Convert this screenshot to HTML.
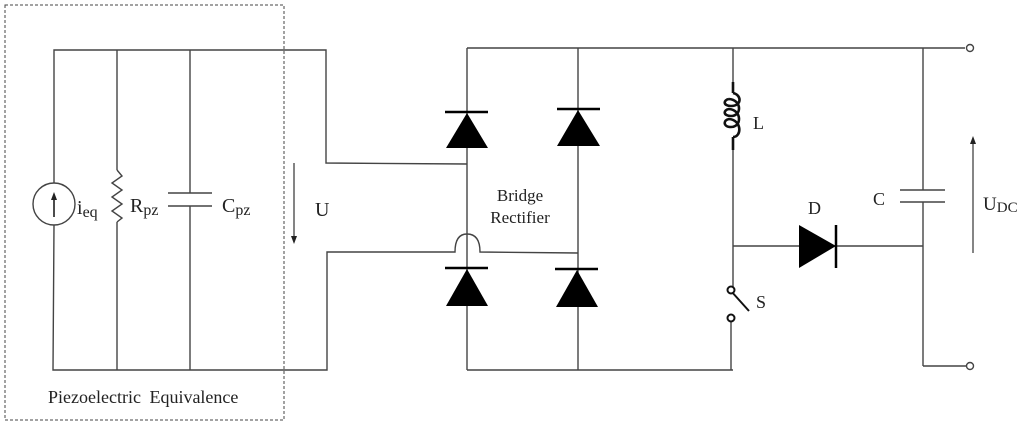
<!DOCTYPE html>
<html><head><meta charset="utf-8"><style>
html,body{margin:0;padding:0;background:#fff;}
svg{display:block;}
text{font-family:"Liberation Serif",serif;fill:#222;}
</style></head><body>
<svg width="1024" height="425" viewBox="0 0 1024 425" xmlns="http://www.w3.org/2000/svg">
<defs>
<marker id="ah" markerWidth="8" markerHeight="8" refX="4" refY="4" orient="auto" markerUnits="userSpaceOnUse">
<path d="M0,1 L8,4 L0,7 z" fill="#222"/></marker>
</defs>
<g stroke="#444" stroke-width="1.4" fill="none">
<rect x="5" y="5" width="279" height="415" stroke-dasharray="3,2" stroke-width="1"/>
<polyline points="54,183 54,50 326,50 326,163 467,164"/>
<polyline points="54,225 53,370 327,370 327,252 452,252"/>
<path d="M452,252 L455,252 Q455,234 467,234 Q480,234 480,252 L578,253"/>
<circle cx="54" cy="204" r="21"/>
<line x1="117" y1="50" x2="117" y2="170"/>
<polyline points="117,170 122,176 112,183 122,190 112,197 122,204 112,211 122,218 117,222"/>
<line x1="117" y1="222" x2="117" y2="370"/>
<line x1="190" y1="50" x2="190" y2="193"/>
<line x1="190" y1="206" x2="190" y2="370"/>
<line x1="168" y1="193" x2="212" y2="193"/>
<line x1="168" y1="206" x2="212" y2="206"/>
<line x1="467" y1="48" x2="965" y2="48"/>
<line x1="467" y1="48" x2="467" y2="370"/>
<line x1="578" y1="48" x2="578" y2="370"/>
<line x1="467" y1="370" x2="733" y2="370"/>
<line x1="733" y1="48" x2="733" y2="82"/>
<line x1="733" y1="150" x2="733" y2="287"/>
<line x1="733" y1="246" x2="923" y2="246"/>
<line x1="731" y1="322" x2="731" y2="370"/>
<line x1="923" y1="48" x2="923" y2="190"/>
<line x1="923" y1="202" x2="923" y2="366"/>
<line x1="923" y1="366" x2="966" y2="366"/>
<line x1="900" y1="190" x2="945" y2="190"/>
<line x1="900" y1="202" x2="945" y2="202"/>
<circle cx="970" cy="48" r="3.5"/>
<circle cx="970" cy="366" r="3.5"/>
</g>
<g stroke="#111" stroke-width="2.6" fill="none">
<line x1="733" y1="82" x2="733" y2="93"/>
<path d="M733,93 C742,95 742,106 731,106 C723,106 723,100 729,99 M729,99 C742,100 742,116 731,116 C723,116 723,110 729,109 C742,110 742,127 731,127 C723,127 723,120 729,119 C742,120 742,137 733,137"/>
<line x1="733" y1="137" x2="733" y2="150"/>
</g>
<g fill="#000" stroke="#000" stroke-width="2.5">
<line x1="445" y1="112" x2="488" y2="112"/>
<path d="M467,113 L446,148 L488,148 z" stroke="none"/>
<line x1="557" y1="109" x2="600" y2="109"/>
<path d="M578,110 L557,146 L600,146 z" stroke="none"/>
<line x1="445" y1="268" x2="488" y2="268"/>
<path d="M467,269 L446,306 L488,306 z" stroke="none"/>
<line x1="555" y1="269" x2="598" y2="269"/>
<path d="M577,270 L556,307 L598,307 z" stroke="none"/>
<line x1="836" y1="225" x2="836" y2="268"/>
<path d="M799,225 L836,246 L799,268 z" stroke="none"/>
</g>
<g stroke="#111" stroke-width="2" fill="#fff">
<line x1="731" y1="291" x2="749" y2="311"/>
<circle cx="731" cy="290" r="3.5"/>
<circle cx="731" cy="318" r="3.5"/>
</g>
<line x1="294" y1="163" x2="294" y2="240" stroke="#333" stroke-width="1.2" marker-end="url(#ah)"/>
<line x1="973" y1="253" x2="973" y2="140" stroke="#333" stroke-width="1.2" marker-end="url(#ah)"/>
<line x1="54" y1="217" x2="54" y2="196" stroke="#111" stroke-width="1.5" marker-end="url(#ah)"/>
<text x="77" y="214" font-size="20">i<tspan font-size="16" dy="3">eq</tspan></text>
<text x="130" y="212" font-size="20">R<tspan font-size="16" dy="3">pz</tspan></text>
<text x="222" y="212" font-size="20">C<tspan font-size="16" dy="3">pz</tspan></text>
<text x="315" y="216" font-size="20">U</text>
<text x="48" y="403" font-size="18" word-spacing="4">Piezoelectric Equivalence</text>
<text x="520" y="201" font-size="17" text-anchor="middle">Bridge</text>
<text x="520" y="223" font-size="17" text-anchor="middle">Rectifier</text>
<text x="753" y="129" font-size="18">L</text>
<text x="808" y="214" font-size="18">D</text>
<text x="873" y="205" font-size="18">C</text>
<text x="756" y="308" font-size="18">S</text>
<text x="983" y="210" font-size="19">U<tspan font-size="15" dy="2">DC</tspan></text>
</svg>
</body></html>
